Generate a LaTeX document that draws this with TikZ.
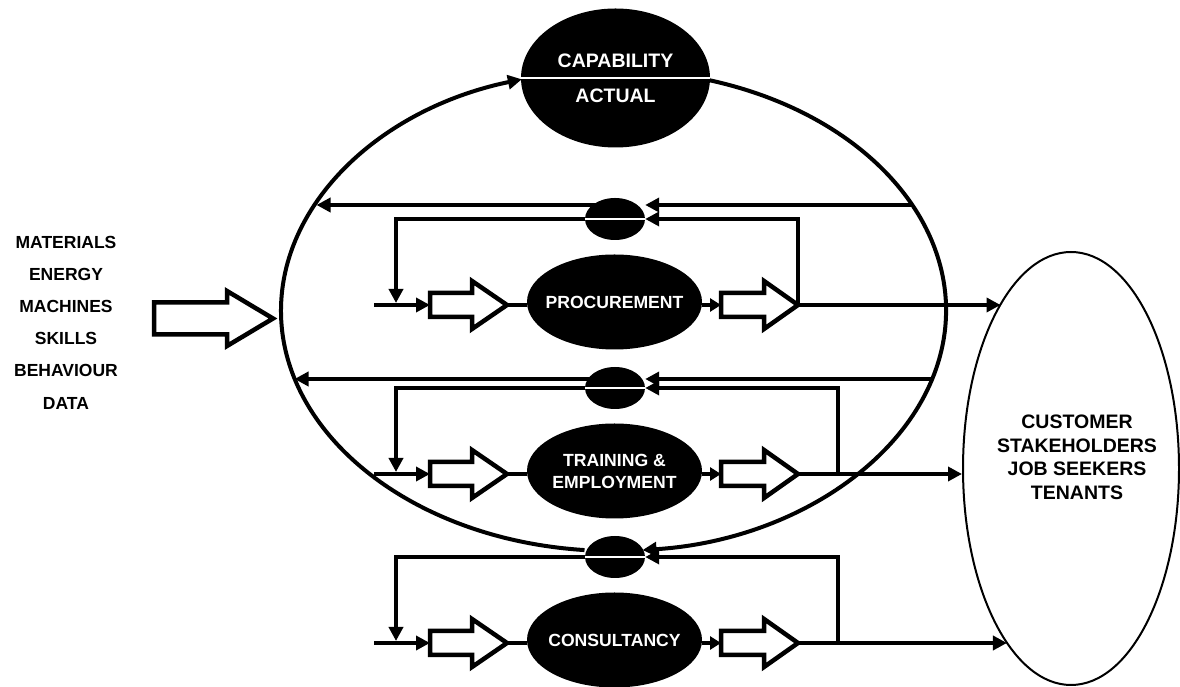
\documentclass[tikz,border=0pt]{standalone}
\usepackage{fontspec}
\setmainfont{Liberation Sans}
\usetikzlibrary{shapes.geometric,arrows.meta,backgrounds}

\tikzset{
	>={Triangle[length=14pt,width=14pt]},
	blob/.style={ellipse, fill=black, inner sep=0pt, text=white, align=center,
		font=\bfseries\fontsize{17.6}{22}\selectfont},
	proc/.style={blob, minimum width=175pt, minimum height=95pt, inner xsep=-15pt},
	comp/.style={blob, minimum width=60pt, minimum height=42pt},
	flow/.style={line width=4pt},
	divider/.style={white, line width=2pt},
	hollowline/.style={line width=4.5pt, line join=miter},
	pics/hollow/.style n args={4}{code={
		\draw[hollowline] (0,-#3) -- (#1-#2,-#3) -- (#1-#2,-#4) -- (#1,0)
			-- (#1-#2,#4) -- (#1-#2,#3) -- (0,#3) -- cycle;
		\coordinate (-tail) at (0,0);
		\coordinate (-tip) at (#1,0);
	}}
}

\begin{document}
\begin{tikzpicture}[x=1pt,y=1pt]
	\useasboundingbox (0,0) rectangle (1180,687);
	% the big loop and the capability comparator
	\node[ellipse, minimum width=665pt, minimum height=481pt, inner sep=0pt, outer sep=0pt] (unit) at (613.5,376.5) {};
	\node[blob, minimum width=189pt, minimum height=139pt, font=\bfseries\fontsize{19.5}{35}\selectfont] (cap) at (615.5,609) {CAPABILITY\\ACTUAL};
	% inputs and customers
	\node[align=center, font=\bfseries\fontsize{17.5}{32.2}\selectfont] (inputs) at (66,364.5) {MATERIALS\\ENERGY\\MACHINES\\SKILLS\\BEHAVIOUR\\DATA};
	\pic (feed) at (154,368.5) {hollow={119}{46}{16}{27.5}};
	\node[ellipse, draw, line width=2pt, minimum width=216pt, minimum height=433pt] (cust) at (1071,218.5) {};
	\node[align=center, font=\bfseries\fontsize{19.5}{23.5}\selectfont] (custtext) at (1077,229.5) {CUSTOMER\\STAKEHOLDERS\\JOB SEEKERS\\TENANTS};
	% processes
	\node[proc] (proc1) at (614.5,385) {PROCUREMENT};
	\node[proc] (proc2) at (614.5,216) {TRAINING \&\\EMPLOYMENT};
	\node[proc] (proc3) at (614.5,47) {CONSULTANCY};
	\node[comp] (sm1) at (615,468) {};
	\node[comp] (sm2) at (615,299) {};
	\node[comp] (sm3) at (615,130) {};
	\pic (h1a) at (430,382) {hollow={77}{35}{12}{24}};
	\pic (h1b) at (721,382) {hollow={77}{34}{12}{24}};
	\pic (h2a) at (430,213) {hollow={77}{35}{12}{24}};
	\pic (h2b) at (721,213) {hollow={77}{34}{12}{24}};
	\pic (h3a) at (430,44) {hollow={77}{35}{12}{24}};
	\pic (h3b) at (721,44) {hollow={77}{34}{12}{24}};
	\coordinate (in1) at (374,382);
	\coordinate (in2) at (374,213);
	\coordinate (in3) at (374,44);
	\coordinate (d1) at (396,382);
	\coordinate (d2) at (396,213);
	\coordinate (d3) at (396,44);
	\coordinate (v2) at (838,213);
	\coordinate (v3) at (838,44);
	\coordinate (o1) at ([yshift=14pt]sm1.center);
	\coordinate (o2) at ([yshift=9pt]sm2.center);

	\begin{scope}[on background layer]
		% big loop
		\draw[flow,->] ([shift={(74:332.5pt and 240.5pt)}]unit.center) arc[start angle=74, end angle=-85, x radius=332.5pt, y radius=240.5pt];
		\draw[flow,->] ([shift={(265:332.5pt and 240.5pt)}]unit.center) arc[start angle=265, end angle=106, x radius=332.5pt, y radius=240.5pt];
		% procurement
		\draw[flow,->] (in1) -- (h1a-tail);
		\draw[flow] (h1a-tip) -- (h1a-tip -| proc1.west);
		\draw[flow,-{Triangle[length=11pt,width=13pt]}] (proc1.east |- h1b-tail) -- (h1b-tail);
		\draw[flow,->] (h1b-tip) -- (h1b-tip -| cust.113);
		\draw[flow,->] (h1b-tip) -- (h1b-tip |- sm1) -- (sm1.east);
		\draw[flow,->] (sm1.west) -- (sm1.west -| d1) -- ([yshift=2pt]d1);
		\draw[flow,->] (o1 -| unit.20) -- (o1 -| sm1.east);
		\draw[flow,->] (o1) -- (o1 -| unit.160);
		% training and employment
		\draw[flow,->] (in2) -- (h2a-tail);
		\draw[flow] (h2a-tip) -- (h2a-tip -| proc2.west);
		\draw[flow,-{Triangle[length=11pt,width=13pt]}] (proc2.east |- h2b-tail) -- (h2b-tail);
		\draw[flow,->] (h2b-tip) -- (h2b-tip -| cust.west);
		\draw[flow,->] (v2) -- (v2 |- sm2) -- (sm2.east);
		\draw[flow,->] (sm2.west) -- (sm2.west -| d2) -- ([yshift=2pt]d2);
		\draw[flow,->] (o2 -| unit.348) -- (o2 -| sm2.east);
		\draw[flow,->] (o2) -- (o2 -| unit.192);
		% consultancy
		\draw[flow,->] (in3) -- (h3a-tail);
		\draw[flow] (h3a-tip) -- (h3a-tip -| proc3.west);
		\draw[flow,-{Triangle[length=11pt,width=13pt]}] (proc3.east |- h3b-tail) -- (h3b-tail);
		\draw[flow,->] (h3b-tip) -- (h3b-tip -| cust.250);
		\draw[flow,->] (v3) -- (v3 |- sm3) -- (sm3.east);
		\draw[flow,->] (sm3.west) -- (sm3.west -| d3) -- ([yshift=2pt]d3);
	\end{scope}

	% lines through the comparators
	\draw[divider] (cap.west) -- (cap.east);
	\draw[divider] (sm1.west) -- (sm1.east);
	\draw[divider] (sm2.west) -- (sm2.east);
	\draw[divider] (sm3.west) -- (sm3.east);
\end{tikzpicture}
\end{document}
